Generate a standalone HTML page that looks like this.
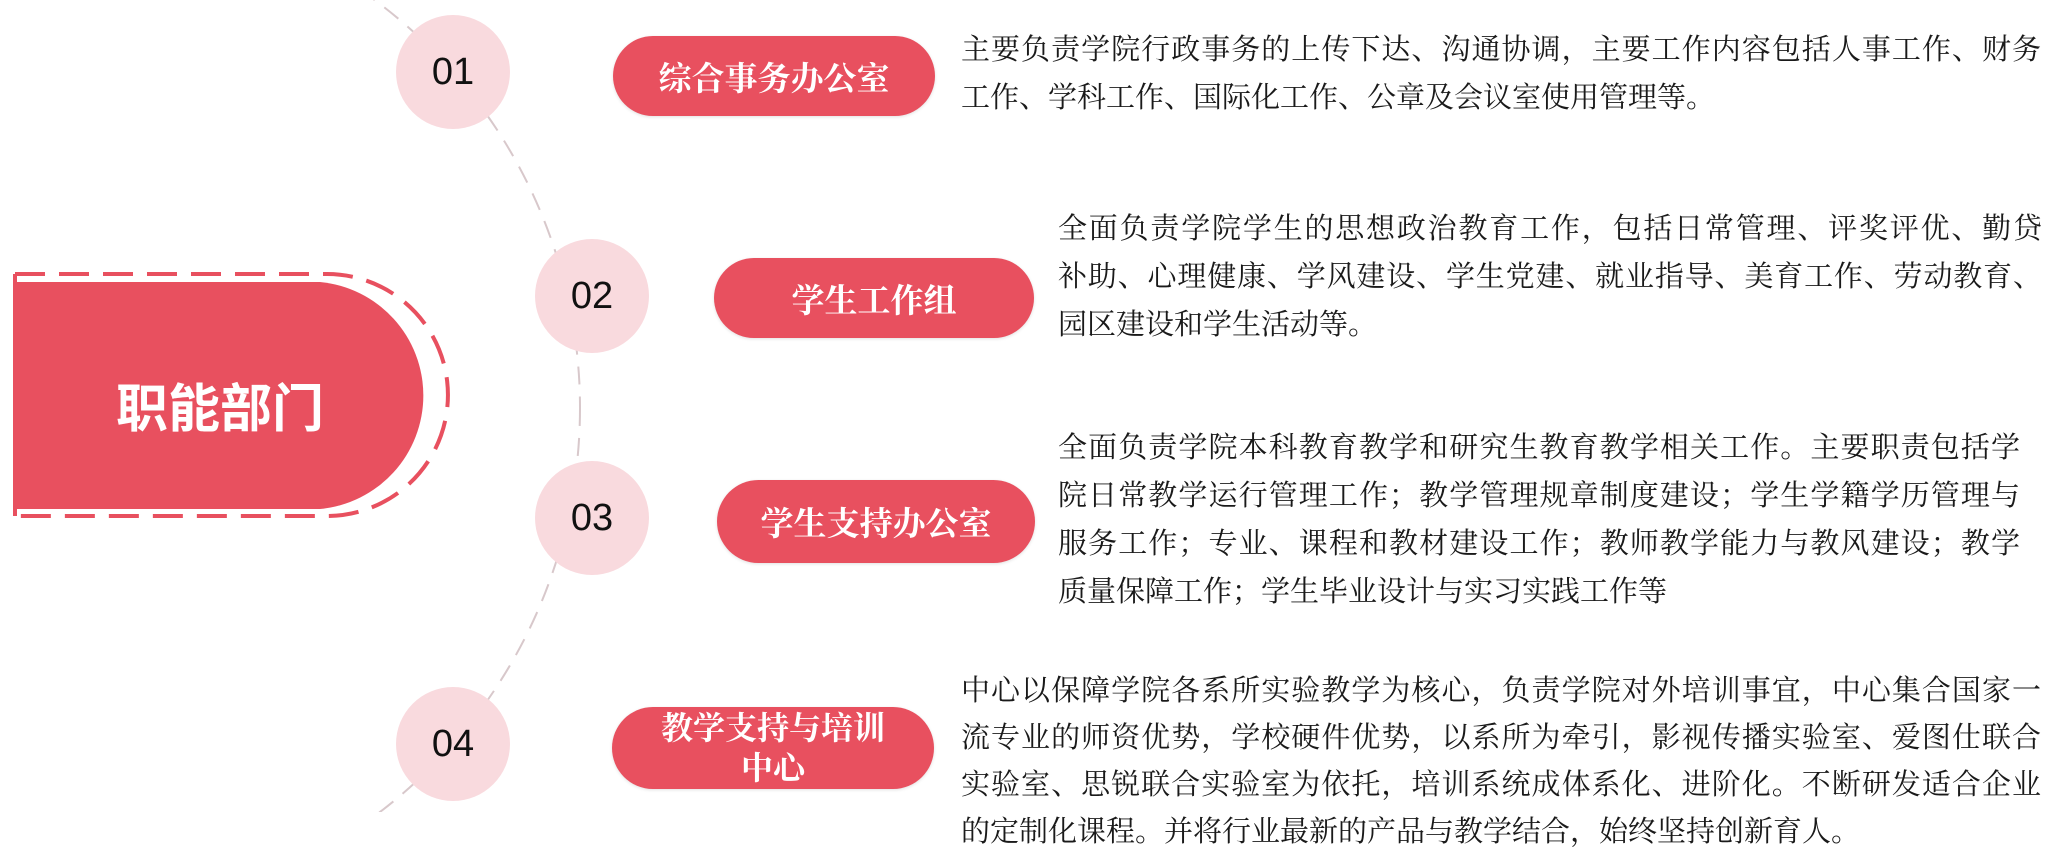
<!DOCTYPE html>
<html><head><meta charset="utf-8"><style>
html,body{margin:0;padding:0;background:#fff;overflow:hidden}
body{width:2048px;height:857px;position:relative;overflow:hidden;font-family:"Liberation Serif","Noto Serif CJK SC",serif}
.c{position:absolute;width:114px;height:114px;border-radius:50%;background:#f9dade;font-family:"Liberation Sans","DejaVu Sans",sans-serif;font-size:38px;color:#111;text-align:center;line-height:114px}
.p{position:absolute;background:#e8505f;border-radius:42px;color:#fff;font-weight:bold;font-size:33px;display:flex;align-items:center;justify-content:center;text-align:center;box-shadow:0 1px 3px rgba(0,0,0,.12)}
.t{position:absolute;font-size:29px;color:#1a1a1a;line-height:48px}
.t div{white-space:nowrap}
.j{text-align:justify;text-align-last:justify}
</style></head><body>
<svg width="2048" height="857" style="position:absolute;left:0;top:0">
<defs><clipPath id="cl"><rect x="0" y="0" width="2048" height="812"/></clipPath></defs>
<circle cx="72" cy="408" r="508" fill="none" stroke="#d8c8cb" stroke-width="2" stroke-dasharray="18 12" clip-path="url(#cl)"/>
<path d="M13 282 H320 A114 114 0 0 1 320 509 H13 Z" fill="#e8505f"/>
<path d="M15 274 H327 A121 121 0 0 1 327 516 H15" fill="none" stroke="#e8505f" stroke-width="4" stroke-dasharray="30 14"/>
<rect x="0" y="0" width="13" height="857" fill="#fff"/>
<line x1="15" y1="274" x2="15" y2="516" stroke="#e8505f" stroke-width="4" stroke-dasharray="30 14"/>
</svg>
<div style="position:absolute;left:80px;top:376px;width:280px;text-align:center;font-family:'Liberation Sans','Noto Sans CJK SC',sans-serif;font-weight:bold;font-size:52px;color:#fff;line-height:68px">职能部门</div>
<div class="c" style="left:396px;top:15px">01</div>
<div class="c" style="left:535px;top:239px">02</div>
<div class="c" style="left:535px;top:461px">03</div>
<div class="c" style="left:396px;top:687px">04</div>
<div class="p" style="left:613px;top:36px;width:322px;height:80px">综合事务办公室</div>
<div class="p" style="left:714px;top:258px;width:320px;height:80px">学生工作组</div>
<div class="p" style="left:717px;top:480px;width:318px;height:83px">学生支持办公室</div>
<div class="p" style="left:612px;top:707px;width:322px;height:82px;line-height:40px;font-size:32px">教学支持与培训<br>中心</div>
<div class="t" style="left:961px;top:26px;width:1080px">
<div class="j">主要负责学院行政事务的上传下达、沟通协调，主要工作内容包括人事工作、财务</div>
<div>工作、学科工作、国际化工作、公章及会议室使用管理等。</div></div>
<div class="t" style="left:1058px;top:205px;width:984px">
<div class="j">全面负责学院学生的思想政治教育工作，包括日常管理、评奖评优、勤贷</div>
<div class="j">补助、心理健康、学风建设、学生党建、就业指导、美育工作、劳动教育、</div>
<div>园区建设和学生活动等。</div></div>
<div class="t" style="left:1058px;top:424px;width:962px">
<div class="j">全面负责学院本科教育教学和研究生教育教学相关工作。主要职责包括学</div>
<div class="j">院日常教学运行管理工作；教学管理规章制度建设；学生学籍学历管理与</div>
<div class="j">服务工作；专业、课程和教材建设工作；教师教学能力与教风建设；教学</div>
<div>质量保障工作；学生毕业设计与实习实践工作等</div></div>
<div class="t" style="left:961px;top:668px;width:1080px;line-height:47px;height:188px;overflow:hidden">
<div class="j">中心以保障学院各系所实验教学为核心，负责学院对外培训事宜，中心集合国家一</div>
<div class="j">流专业的师资优势，学校硬件优势，以系所为牵引，影视传播实验室、爱图仕联合</div>
<div class="j">实验室、思锐联合实验室为依托，培训系统成体系化、进阶化。不断研发适合企业</div>
<div>的定制化课程。并将行业最新的产品与教学结合，始终坚持创新育人。</div></div>
</body></html>
